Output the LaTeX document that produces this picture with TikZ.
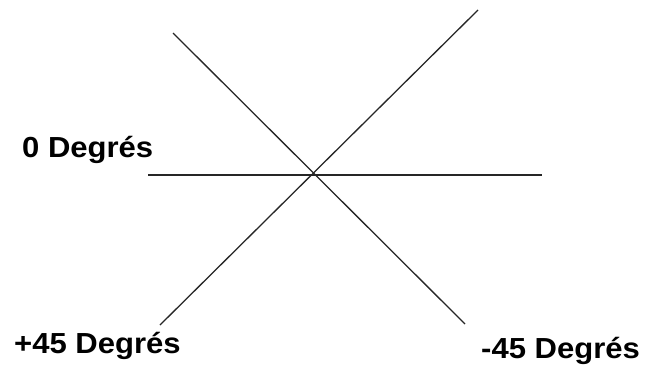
\documentclass[tikz,border=0pt]{standalone}
\usepackage{fontspec}
\setmainfont{Liberation Sans}
\usepackage{tikz}
\usetikzlibrary{positioning}

\newcommand{\wide}[1]{\scalebox{1.07}[1]{#1}}

\begin{document}
\begin{tikzpicture}[
    x=1pt, y=-1pt,
    axis/.style={line width=1.3pt, black!85},
    label/.style={anchor=base west, inner sep=0pt, font=\fontsize{29}{31}\selectfont\bfseries}
]
    \useasboundingbox (0,0) rectangle (647,367);

    % Line ends
    \coordinate (h_left) at (148,175);
    \coordinate (h_right) at (542,175);
    \coordinate (m_top) at (173,33);
    \coordinate (m_bot) at (465,324);
    \coordinate (p_top) at (478,10);
    \coordinate (p_bot) at (160,325);

    % Lines
    \draw[axis] (h_left) -- (h_right);
    \draw[axis] (m_top) -- (m_bot);
    \draw[axis] (p_bot) -- (p_top);

    % Labels
    \node[label] (zero) at (22,157) {\wide{0 Degrés}};
    \node[label] (plus) at (14,353) {\wide{+45 Degrés}};
    \node[label] (minus) at (481,358) {\wide{-45 Degrés}};

\end{tikzpicture}
\end{document}
